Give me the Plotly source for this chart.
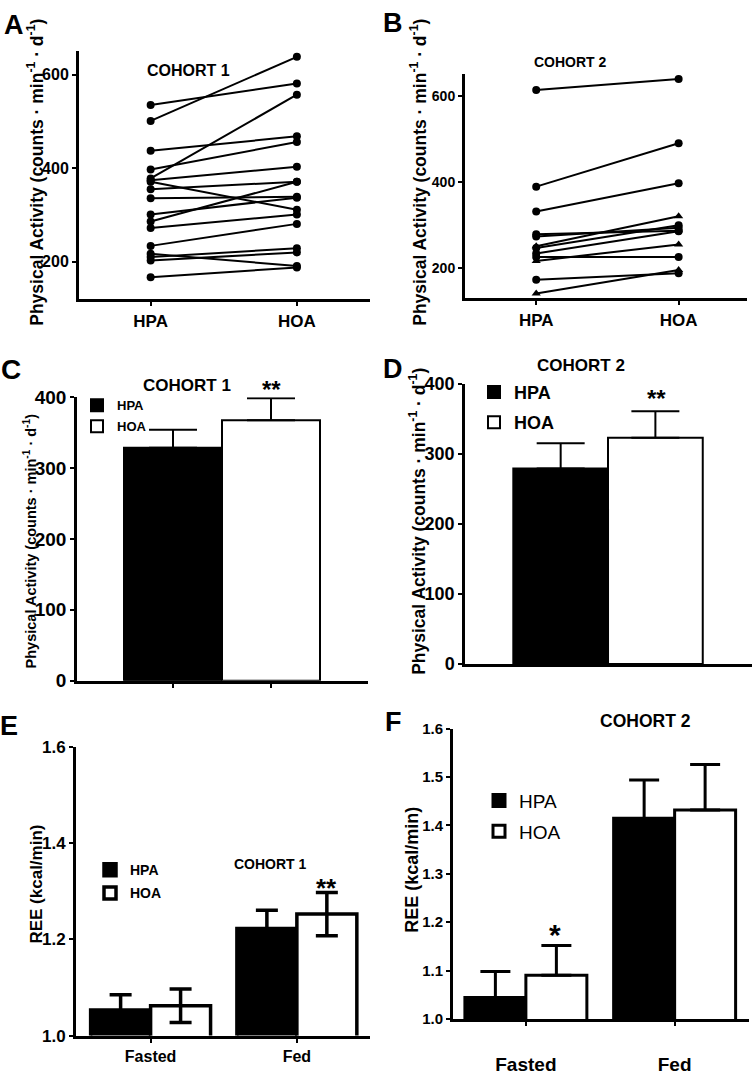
import plotly.graph_objects as go

W, H = 754, 1075
FONT = "Liberation Sans, Arial, Helvetica, sans-serif"


def px(x):
    return x / W


def py(y):
    return 1 - y / H


# ---------------- data ----------------
pair_groups = ["HPA", "HOA"]
cohort1_hpa = [535, 501, 437, 397, 378, 374, 371, 355, 336, 301, 286, 272, 234, 217, 210, 203, 167]
cohort1_hoa = [581, 638, 468, 456, 557, 403, 311, 371, 339, 337, 371, 301, 281, 191, 229, 220, 188]
cohort2_hpa = [615, 390, 332, 279, 274, 251, 247, 234, 226, 217, 173, 141]
cohort2_hoa = [641, 491, 398, 287, 294, 321, 300, 286, 226, 255, 188, 196]
cohort2_triangle_subjects = [5, 9, 11]

pa_groups = ["HPA", "HOA"]
pa_c1_mean = [328.6, 367.7]
pa_c1_sem = [25.4, 31.0]
pa_c2_mean = [279.0, 322.8]
pa_c2_sem = [36.0, 37.7]

ree_states = ["Fasted", "Fed"]
ree_c1_hpa = [1.053, 1.223]
ree_c1_hpa_err = [0.032, 0.038]
ree_c1_hoa = [1.062, 1.253]
ree_c1_hoa_err = [0.035, 0.045]
ree_c2_hpa = [1.044, 1.415]
ree_c2_hpa_err = [0.054, 0.079]
ree_c2_hoa = [1.090, 1.432]
ree_c2_hoa_err = [0.062, 0.094]

fig = go.Figure()

# ---------------- A: cohort 1 paired ----------------
for a, b in zip(cohort1_hpa, cohort1_hoa):
    fig.add_trace(go.Scatter(
        x=pair_groups, y=[a, b], mode="lines+markers", xaxis="x", yaxis="y",
        line=dict(color="black", width=2), marker=dict(color="black", size=8),
        showlegend=False, hoverinfo="skip"))

# ---------------- B: cohort 2 paired ----------------
for i, (a, b) in enumerate(zip(cohort2_hpa, cohort2_hoa)):
    sym = "triangle-up" if i in cohort2_triangle_subjects else "circle"
    fig.add_trace(go.Scatter(
        x=pair_groups, y=[a, b], mode="lines+markers", xaxis="x2", yaxis="y2",
        line=dict(color="black", width=2), marker=dict(color="black", size=8, symbol=sym),
        showlegend=False, hoverinfo="skip"))

# ---------------- C / D: physical activity bars ----------------
def pa_bars(means, sems, xa, ya, leg, lw, ew, cap):
    for i, (name, col) in enumerate(zip(pa_groups, ["black", "white"])):
        fig.add_trace(go.Bar(
            x=[name], y=[means[i]], name=name, xaxis=xa, yaxis=ya,
            width=1, offsetgroup="pa" + xa, legend=leg, legendgroup=leg + name,
            marker=dict(color=col, line=dict(color="black", width=lw)),
            error_y=dict(type="data", array=[sems[i]], arrayminus=[0], symmetric=False,
                         color="black", thickness=ew, width=cap)))


pa_bars(pa_c1_mean, pa_c1_sem, "x3", "y3", "legend", 2, 2, 24)
pa_bars(pa_c2_mean, pa_c2_sem, "x4", "y4", "legend2", 2, 2, 24)

# ---------------- E / F: REE grouped bars ----------------
def ree_bars(hpa, hpa_e, hoa, hoa_e, xa, ya, leg, lw, ew, cap, sym_hoa):
    fig.add_trace(go.Bar(
        x=ree_states, y=hpa, name="HPA", xaxis=xa, yaxis=ya, legend=leg, legendgroup=leg + "HPA",
        marker=dict(color="black", line=dict(color="black", width=lw)),
        error_y=dict(type="data", array=hpa_e, color="black", thickness=ew, width=cap)))
    err = dict(type="data", array=hoa_e, color="black", thickness=ew, width=cap)
    if not sym_hoa:
        err.update(arrayminus=[0] * len(hoa_e), symmetric=False)
    fig.add_trace(go.Bar(
        x=ree_states, y=hoa, name="HOA", xaxis=xa, yaxis=ya, legend=leg, legendgroup=leg + "HOA",
        marker=dict(color="white", line=dict(color="black", width=lw)),
        error_y=err))


ree_bars(ree_c1_hpa, ree_c1_hpa_err, ree_c1_hoa, ree_c1_hoa_err, "x5", "y5", "legend3", 3.5, 3.5, 11, True)
ree_bars(ree_c2_hpa, ree_c2_hpa_err, ree_c2_hoa, ree_c2_hoa_err, "x6", "y6", "legend4", 3, 3, 15, False)

# ---------------- axes ----------------
def xax(x0, x1, y0, y1, rng, anchor, size, ticks="outside", labels=True, standoff=None):
    d = dict(domain=[px(x0), px(x1)], anchor=anchor, range=rng, showline=True, linecolor="black",
             linewidth=3, ticks=ticks, ticklen=4, tickwidth=2, tickcolor="black",
             showgrid=False, zeroline=False, showticklabels=labels, fixedrange=True,
             tickfont=dict(family=FONT, size=size, color="black", weight="bold"))
    if standoff is not None:
        d["ticklabelstandoff"] = standoff
    return d


def yax(y0, y1, rng, anchor, size, tickvals, fmt=None, lw=3):
    d = dict(domain=[py(y1), py(y0)], anchor=anchor, range=rng, showline=True, linecolor="black",
             linewidth=lw, ticks="outside", ticklen=4, tickwidth=2, tickcolor="black",
             showgrid=False, zeroline=False, tickvals=tickvals, fixedrange=True,
             tickfont=dict(family=FONT, size=size, color="black", weight="bold"))
    if fmt:
        d["tickformat"] = fmt
    return d


layout = dict(
    width=W, height=H, margin=dict(l=0, r=0, t=0, b=0),
    paper_bgcolor="white", plot_bgcolor="white",
    barmode="group", bargap=0.18, bargroupgap=0,
    font=dict(family=FONT, color="black"),
    xaxis=xax(79, 370, 42, 295, [-0.49, 1.5], "y", 17),
    yaxis=yax(42, 295, [120, 650], "x", 16, [200, 400, 600]),
    xaxis2=xax(465, 747, 65, 294, [-0.5, 1.48], "y2", 17),
    yaxis2=yax(65, 294, [130, 653], "x2", 14, [200, 400, 600]),
    xaxis3=xax(77, 368, 395, 684, [-0.98, 1.99], "y3", 16, labels=False),
    yaxis3=yax(395, 684, [0, 400], "x3", 19, [0, 100, 200, 300, 400], lw=2.5),
    xaxis4=xax(465, 752, 381, 667, [-1.01, 2.02], "y4", 16, ticks="", labels=False),
    yaxis4=yax(381, 667, [0, 400], "x4", 18, [0, 100, 200, 300, 400], lw=2.5),
    xaxis5=xax(76, 370, 752, 1046, [-0.51, 1.5], "y5", 16),
    yaxis5=yax(752, 1046, [1.0, 1.6], "x5", 17, [1.0, 1.2, 1.4, 1.6], ".1f"),
    xaxis6=xax(453, 749, 733, 1029, [-0.49, 1.5], "y6", 19, standoff=22),
    yaxis6=yax(733, 1029, [1.0, 1.6], "x6", 15, [1.0, 1.1, 1.2, 1.3, 1.4, 1.5, 1.6], ".1f"),
)


def leg(x, y, size, gap, bold=True):
    return dict(x=px(x), y=py(y), xanchor="left", yanchor="top", bgcolor="rgba(0,0,0,0)",
                borderwidth=0, traceorder="grouped", tracegroupgap=gap,
                font=dict(family=FONT, size=size, color="black", weight="bold" if bold else "normal"))


layout["legend"] = leg(77, 388, 13, 1)
layout["legend2"] = leg(474, 371, 18, 4)
layout["legend3"] = leg(90, 861, 14, 2)
layout["legend4"] = leg(479, 787, 19, 3, bold=False)

fig.update_layout(**layout)

# ---------------- annotations ----------------
def ann(text, x, y, size, bold=True, angle=0):
    fig.add_annotation(text=text, x=px(x), y=py(y), xref="paper", yref="paper",
                       xanchor="center", yanchor="middle", showarrow=False, textangle=angle,
                       font=dict(family=FONT, size=size, color="black",
                                 weight="bold" if bold else "normal"))


pa_title = "Physical Activity (counts · min<sup>-1</sup> · d<sup>-1</sup>)"
ree_title = "REE (kcal/min)"

# panel letters
ann("A", 14, 15, 27)
ann("B", 393, 13, 27)
ann("C", 11, 367, 28)
ann("D", 393, 366, 27)
ann("E", 9, 730, 27)
ann("F", 393, 726, 27)

# axis titles
ann(pa_title, 35, 166, 17.5, angle=-90)
ann(pa_title, 418, 166, 17.5, angle=-90)
ann(pa_title, 30, 542, 14.5, angle=-90)
ann(pa_title, 417, 521, 17.5, angle=-90)
ann(ree_title, 37, 892, 17, angle=-90)
ann(ree_title, 412, 877, 18, angle=-90)

# cohort labels
ann("COHORT 1", 188, 62, 16)
ann("COHORT 2", 570, 53, 14)
ann("COHORT 1", 187, 383, 17)
ann("COHORT 2", 581, 363, 17)
ann("COHORT 1", 270, 871, 14)
ann("COHORT 2", 645, 725, 17.5)

# significance marks
ann("**", 271, 387, 24)
ann("**", 656, 396, 24)
ann("**", 326, 895, 26)
ann("*", 555, 943, 30)

# remove the browser's default 8px body margin so the figure sits at the page origin
fig.write_html("out.html", config={"displayModeBar": False},
               post_script="document.body.style.margin='0';")
